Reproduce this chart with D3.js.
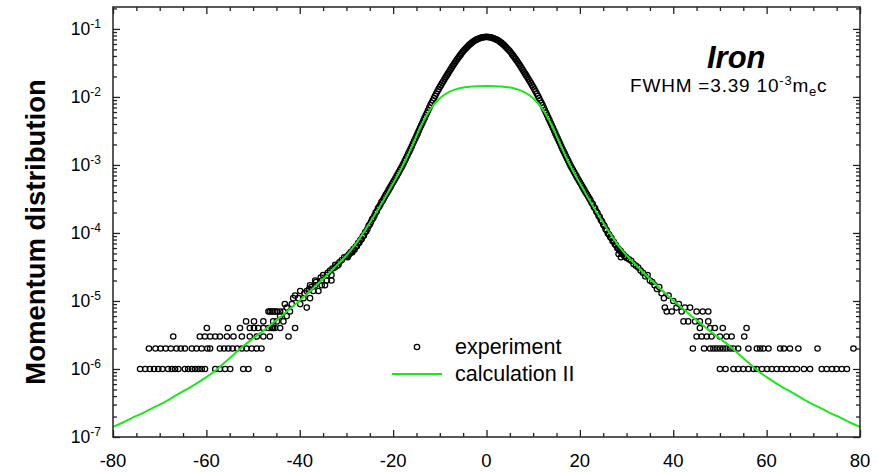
<!DOCTYPE html>
<html>
<head>
<meta charset="utf-8">
<script src="https://cdn.jsdelivr.net/npm/d3@7"></script>
<style>
  body { margin: 0; background: #fff; }
  svg { display: block; font-family: "Liberation Sans", Arial, sans-serif; }
</style>
</head>
<body>
<script>
// tick values
const xMajor = [-80, -60, -40, -20, 0, 20, 40, 60, 80];
const xMinor = [-75, -70, -65, -55, -50, -45, -35, -30, -25, -15, -10, -5, 5, 10, 15, 25, 30, 35, 45, 50, 55, 65, 70, 75];
const yMajor = [1e-7, 1e-6, 1e-5, 1e-4, 1e-3, 1e-2, 1e-1];
const yExp = ['-7', '-6', '-5', '-4', '-3', '-2', '-1'];
const yTop = 0.21;

// experiment, central peak, left half (x, value)
const peakLeft = [
  [-30, 4.5e-5], [-29.75, 4.4e-5], [-29.5, 4.8e-5], [-29.25, 5.0e-5], [-29, 5.3e-5], [-28.75, 5.2e-5],
  [-28.5, 5.8e-5], [-28.25, 5.7e-5], [-28, 6.3e-5], [-27.75, 6.4e-5], [-27.5, 7.1e-5], [-27.25, 7.2e-5],
  [-27, 7.9e-5], [-26.75, 8.1e-5], [-26.5, 8.9e-5], [-26.25, 9.2e-5], [-26, 1.02e-4], [-25.75, 1.06e-4],
  [-25.5, 1.14e-4], [-25.25, 1.27e-4], [-25, 1.33e-4], [-24.75, 1.44e-4], [-24.5, 1.59e-4], [-24.25, 1.66e-4],
  [-24, 1.80e-4], [-23.75, 1.98e-4], [-23.5, 2.08e-4], [-23.25, 2.3e-4], [-23, 2.42e-4], [-22.75, 2.6e-4],
  [-22.5, 2.84e-4], [-22.25, 2.98e-4], [-22, 3.2e-4], [-21.75, 3.46e-4], [-21.5, 3.70e-4], [-21.25, 3.94e-4],
  [-21, 4.22e-4], [-20.75, 4.52e-4], [-20.5, 4.84e-4], [-20.25, 5.19e-4], [-20, 5.56e-4], [-19.75, 5.96e-4],
  [-19.5, 6.38e-4], [-19.25, 6.84e-4], [-19, 7.33e-4], [-18.75, 7.87e-4], [-18.5, 8.47e-4], [-18.25, 9.10e-4],
  [-18, 9.77e-4], [-17.75, 1.06e-3], [-17.5, 1.15e-3], [-17.25, 1.24e-3], [-17, 1.35e-3], [-16.75, 1.47e-3],
  [-16.5, 1.59e-3], [-16.25, 1.73e-3], [-16, 1.88e-3], [-15.75, 2.06e-3], [-15.5, 2.24e-3], [-15.25, 2.44e-3],
  [-15, 2.66e-3], [-14.75, 2.91e-3], [-14.5, 3.18e-3], [-14.25, 3.48e-3], [-14, 3.80e-3], [-13.75, 4.14e-3],
  [-13.5, 4.52e-3], [-13.25, 4.92e-3], [-13, 5.37e-3], [-12.75, 5.85e-3], [-12.5, 6.37e-3], [-12.25, 6.95e-3],
  [-12, 7.59e-3], [-11.75, 8.20e-3], [-11.5, 8.87e-3], [-11.25, 9.59e-3], [-11, 1.04e-2], [-10.75, 1.12e-2],
  [-10.5, 1.21e-2], [-10.25, 1.30e-2], [-10, 1.40e-2], [-9.75, 1.49e-2], [-9.5, 1.60e-2], [-9.25, 1.70e-2],
  [-9, 1.82e-2], [-8.75, 1.94e-2], [-8.5, 2.07e-2], [-8.25, 2.20e-2], [-8, 2.34e-2], [-7.75, 2.50e-2],
  [-7.5, 2.66e-2], [-7.25, 2.84e-2], [-7, 3.02e-2], [-6.75, 3.20e-2], [-6.5, 3.39e-2], [-6.25, 3.59e-2],
  [-6, 3.80e-2], [-5.75, 4.01e-2], [-5.5, 4.22e-2], [-5.25, 4.45e-2], [-5, 4.68e-2], [-4.75, 4.89e-2],
  [-4.5, 5.11e-2], [-4.25, 5.33e-2], [-4, 5.56e-2], [-3.75, 5.77e-2], [-3.5, 5.98e-2], [-3.25, 6.18e-2],
  [-3, 6.38e-2], [-2.75, 6.56e-2], [-2.5, 6.73e-2], [-2.25, 6.89e-2], [-2, 7.03e-2], [-1.75, 7.14e-2],
  [-1.5, 7.26e-2], [-1.25, 7.38e-2], [-1, 7.46e-2], [-0.75, 7.53e-2], [-0.5, 7.59e-2], [-0.25, 7.61e-2]
];

// experiment, central peak, right half
const peakRight = [
  [0, 7.62e-2], [0.25, 7.61e-2], [0.5, 7.59e-2], [0.75, 7.53e-2], [1, 7.46e-2], [1.25, 7.38e-2],
  [1.5, 7.26e-2], [1.75, 7.14e-2], [2, 7.03e-2], [2.25, 6.89e-2], [2.5, 6.73e-2], [2.75, 6.56e-2],
  [3, 6.38e-2], [3.25, 6.18e-2], [3.5, 5.98e-2], [3.75, 5.77e-2], [4, 5.56e-2], [4.25, 5.33e-2],
  [4.5, 5.11e-2], [4.75, 4.89e-2], [5, 4.68e-2], [5.25, 4.45e-2], [5.5, 4.22e-2], [5.75, 4.01e-2],
  [6, 3.80e-2], [6.25, 3.59e-2], [6.5, 3.39e-2], [6.75, 3.20e-2], [7, 3.02e-2], [7.25, 2.84e-2],
  [7.5, 2.66e-2], [7.75, 2.50e-2], [8, 2.34e-2], [8.25, 2.20e-2], [8.5, 2.07e-2], [8.75, 1.94e-2],
  [9, 1.82e-2], [9.25, 1.70e-2], [9.5, 1.60e-2], [9.75, 1.49e-2], [10, 1.40e-2], [10.25, 1.30e-2],
  [10.5, 1.21e-2], [10.75, 1.12e-2], [11, 1.04e-2], [11.25, 9.59e-3], [11.5, 8.87e-3], [11.75, 8.20e-3],
  [12, 7.59e-3], [12.25, 6.95e-3], [12.5, 6.37e-3], [12.75, 5.85e-3], [13, 5.37e-3], [13.25, 4.92e-3],
  [13.5, 4.52e-3], [13.75, 4.14e-3], [14, 3.80e-3], [14.25, 3.48e-3], [14.5, 3.18e-3], [14.75, 2.91e-3],
  [15, 2.66e-3], [15.25, 2.44e-3], [15.5, 2.24e-3], [15.75, 2.06e-3], [16, 1.88e-3], [16.25, 1.73e-3],
  [16.5, 1.59e-3], [16.75, 1.47e-3], [17, 1.35e-3], [17.25, 1.24e-3], [17.5, 1.15e-3], [17.75, 1.06e-3],
  [18, 9.77e-4], [18.25, 9.10e-4], [18.5, 8.47e-4], [18.75, 7.87e-4], [19, 7.33e-4], [19.25, 6.84e-4],
  [19.5, 6.38e-4], [19.75, 5.96e-4], [20, 5.56e-4], [20.25, 5.19e-4], [20.5, 4.84e-4], [20.75, 4.52e-4],
  [21, 4.22e-4], [21.25, 3.94e-4], [21.5, 3.70e-4], [21.75, 3.46e-4], [22, 3.24e-4], [22.25, 3.05e-4],
  [22.5, 2.78e-4], [22.75, 2.66e-4], [23, 2.41e-4], [23.25, 2.31e-4], [23.5, 2.08e-4], [23.75, 1.98e-4],
  [24, 1.79e-4], [24.25, 1.71e-4], [24.5, 1.55e-4], [24.75, 1.47e-4], [25, 1.33e-4], [25.25, 1.27e-4],
  [25.5, 1.14e-4], [25.75, 1.09e-4], [26, 9.8e-5], [26.25, 9.5e-5], [26.5, 8.7e-5], [26.75, 8.4e-5],
  [27, 7.6e-5], [27.25, 7.4e-5], [27.5, 6.8e-5], [27.75, 6.6e-5], [28, 6.0e-5], [28.25, 5.9e-5],
  [28.3, 4.9e-5], [28.5, 5.5e-5], [28.75, 5.4e-5], [28.8, 4.4e-5], [29, 5.0e-5], [29.25, 4.9e-5],
  [29.5, 4.6e-5], [29.75, 4.5e-5], [30, 4.3e-5]
];

// experiment, left tail
const tailLeft = [
  [-30.5, 4.4e-5], [-31, 4.0e-5], [-31.5, 3.7e-5], [-31.7, 3.4e-5], [-32, 3.3e-5], [-32.4, 3.4e-5],
  [-32.5, 3.1e-5], [-33, 3.0e-5], [-33.2, 2.4e-5], [-33.2, 2.0e-5], [-33.5, 2.8e-5], [-34, 2.6e-5],
  [-34.2, 2.4e-5], [-34.2, 2.0e-5], [-34.6, 1.7e-5], [-35, 2.4e-5], [-35.3, 2.0e-5], [-35.3, 1.7e-5],
  [-35.5, 2.2e-5], [-36, 1.4e-5], [-36.5, 1.9e-5], [-36.7, 1.7e-5], [-36.7, 2.0e-5], [-37.1, 1.4e-5],
  [-37.5, 1.6e-5], [-37.8, 1.7e-5], [-37.8, 1.1e-5], [-38, 1.5e-5], [-38.5, 1.4e-5], [-38.5, 8e-6],
  [-39, 1.3e-5], [-39.2, 1.1e-5], [-39.9, 1.4e-5], [-39.9, 9e-6], [-40.3, 1.1e-5], [-41, 4e-6],
  [-41, 1.2e-5], [-41.4, 1.1e-5], [-41.7, 9e-6], [-42.1, 7e-6], [-42.4, 3e-6], [-42.8, 8e-6],
  [-42.8, 6e-6], [-43.2, 9e-6], [-43.5, 7e-6], [-43.5, 5e-6], [-44.2, 7e-6], [-44.2, 6e-6],
  [-44.2, 4e-6], [-44.9, 7e-6], [-44.9, 5e-6], [-45.3, 7e-6], [-45.3, 4e-6], [-45.7, 7e-6],
  [-45.7, 5e-6], [-45.7, 4e-6], [-46, 7e-6], [-46, 4e-6], [-46.4, 7e-6], [-46.4, 3e-6],
  [-46.7, 7e-6], [-46.7, 1e-6], [-46.7, 4e-6], [-47.8, 5e-6], [-47.8, 4e-6], [-47.8, 3e-6],
  [-48.2, 2e-6], [-48.9, 4e-6], [-49.2, 3e-6], [-49.2, 2e-6], [-49.8, 5e-6], [-49.8, 4e-6],
  [-50.3, 2e-6], [-50.7, 3e-6], [-50.7, 4e-6], [-51, 1e-6], [-51.4, 2e-6], [-51.5, 5e-6],
  [-52.1, 1e-6], [-52.4, 2e-6], [-52.4, 3e-6], [-52.8, 4e-6], [-53.4, 2e-6], [-54.2, 3e-6],
  [-54.4, 2e-6], [-54.9, 1e-6], [-55.3, 2e-6], [-55.4, 4e-6], [-55.6, 3e-6], [-56, 1e-6],
  [-56.2, 2e-6], [-57.1, 1e-6], [-57.1, 2e-6], [-57.1, 3e-6], [-58.1, 1e-6], [-58.1, 3e-6],
  [-59.2, 2e-6], [-59.2, 3e-6], [-59.8, 2e-6], [-59.9, 4e-6], [-60.3, 1e-6], [-60.3, 3e-6],
  [-61, 1e-6], [-61, 2e-6], [-61.4, 3e-6], [-61.7, 1e-6], [-62.1, 2e-6], [-62.4, 1e-6],
  [-63.1, 1e-6], [-63.1, 2e-6], [-63.9, 1e-6], [-64.6, 1e-6], [-64.6, 2e-6], [-65.5, 2e-6],
  [-66, 1e-6], [-66.4, 2e-6], [-66.7, 1e-6], [-67.1, 3e-6], [-67.4, 1e-6], [-67.6, 2e-6],
  [-68.2, 1e-6], [-68.7, 2e-6], [-69.4, 1e-6], [-69.8, 2e-6], [-70.3, 1e-6], [-70.9, 2e-6],
  [-71.2, 1e-6], [-72.1, 1e-6], [-72.3, 2e-6], [-73.1, 1e-6], [-74.2, 1e-6]
];

// experiment, right tail
const tailRight = [
  [30.5, 4.1e-5], [31, 3.9e-5], [31.5, 3.5e-5], [32, 3.3e-5], [32.5, 3.1e-5], [33, 2.8e-5],
  [33.5, 2.6e-5], [34, 2.3e-5], [34.5, 2.4e-5], [35, 2.0e-5], [35.5, 1.9e-5], [36, 1.7e-5],
  [36.5, 1.5e-5], [37, 1.6e-5], [37.5, 1.3e-5], [38, 1.1e-5], [38.2, 8e-6], [38.6, 7e-6],
  [39, 1.2e-5], [39.7, 7e-6], [40, 1.0e-5], [40.7, 8e-6], [41.2, 9e-6], [41.8, 7e-6],
  [42.2, 5e-6], [42.5, 8e-6], [43.2, 5e-6], [43.6, 8e-6], [44.2, 2e-6], [44.7, 5e-6],
  [45, 7e-6], [45, 3e-6], [45.7, 4e-6], [45.7, 5e-6], [46.1, 3e-6], [46.3, 7e-6],
  [46.6, 2e-6], [47.2, 3e-6], [47.5, 7e-6], [47.5, 5e-6], [47.9, 2e-6], [47.9, 4e-6],
  [48.2, 3e-6], [48.6, 2e-6], [48.9, 4e-6], [49.3, 2e-6], [50, 1e-6], [50, 2e-6],
  [50, 3e-6], [50.6, 4e-6], [50.7, 2e-6], [51.2, 1e-6], [51.4, 2e-6], [51.4, 3e-6],
  [52.2, 2e-6], [52.5, 3e-6], [52.9, 1e-6], [52.9, 2e-6], [53.9, 1e-6], [53.9, 2e-6],
  [55, 1e-6], [55.2, 3e-6], [55.7, 4e-6], [56.1, 1e-6], [56.1, 2e-6], [57.2, 1e-6],
  [57.9, 1e-6], [57.9, 2e-6], [58.6, 2e-6], [59, 1e-6], [59.3, 2e-6], [60.1, 1e-6],
  [60.4, 2e-6], [61.1, 1e-6], [62.2, 1e-6], [62.9, 2e-6], [63.2, 1e-6], [63.7, 2e-6],
  [64.3, 1e-6], [65, 2e-6], [65.4, 1e-6], [66.5, 1e-6], [66.8, 2e-6], [68, 1e-6],
  [69.3, 1e-6], [70.9, 2e-6], [71.8, 1e-6], [72.9, 1e-6], [74, 1e-6], [75, 1e-6],
  [76.1, 1e-6], [77.2, 1e-6], [78.6, 2e-6]
];

// calculation II
const calcX = [-80, -78, -76, -74, -72, -70, -68, -66, -64, -62, -60, -58, -56, -54, -52, -50, -48, -46, -44, -42, -40,
  -38, -36, -34, -32, -30, -28, -26, -24, -22, -20, -18, -16, -14, -12, -10, -8, -6, -4, -2, 0,
  2, 4, 6, 8, 10, 12, 14, 16, 18, 20, 22, 24, 26, 28, 30, 32, 34, 36, 38, 40,
  42, 44, 46, 48, 50, 52, 54, 56, 58, 60, 62, 64, 66, 68, 70, 72, 74, 76, 78, 80];
const calcY = [1.41e-7, 1.62e-7, 1.9e-7, 2.19e-7, 2.57e-7, 3.0e-7, 3.55e-7, 4.3e-7, 5.1e-7, 6.2e-7, 7.6e-7,
  9.5e-7, 1.26e-6, 1.66e-6, 2.2e-6, 2.8e-6, 3.55e-6, 4.6e-6, 5.9e-6, 7.8e-6, 1.02e-5,
  1.35e-5, 1.82e-5, 2.45e-5, 3.4e-5, 4.68e-5, 6.92e-5, 1.10e-4, 1.82e-4, 3.09e-4, 5.37e-4,
  9.55e-4, 1.86e-3, 3.80e-3, 6.61e-3, 9.55e-3, 1.189e-2, 1.334e-2, 1.403e-2, 1.439e-2, 1.452e-2,
  1.439e-2, 1.403e-2, 1.334e-2, 1.189e-2, 9.55e-3, 6.61e-3, 3.80e-3, 1.86e-3, 9.55e-4, 5.37e-4,
  3.09e-4, 1.82e-4, 1.10e-4, 6.92e-5, 4.68e-5, 3.4e-5, 2.45e-5, 1.82e-5, 1.35e-5, 1.02e-5,
  7.8e-6, 5.9e-6, 4.6e-6, 3.55e-6, 2.8e-6, 2.2e-6, 1.66e-6, 1.26e-6, 9.5e-7, 7.6e-7,
  6.2e-7, 5.1e-7, 4.3e-7, 3.55e-7, 3.0e-7, 2.57e-7, 2.19e-7, 1.9e-7, 1.62e-7, 1.41e-7];

const width = 878;
const height = 472;
const plotL = 113, plotR = 860, plotT = 7, plotB = 437;
const green = '#1ee61e';

const svg = d3.select('body').append('svg')
  .attr('width', width)
  .attr('height', height);

const x = d3.scaleLinear().domain([-80, 80]).range([plotL, plotR]);
const y = d3.scaleLog().domain([1e-7, yTop]).range([plotB, plotT]);

// minor log ticks 2..9 in each decade
const yMinor = [];
yMajor.forEach(d => {
  for (let k = 2; k <= 9; k++) {
    const v = d * k;
    if (v < yTop) yMinor.push(v);
  }
});

// ticks, all pointing inward
function ticks(axis, tr) {
  const g = svg.append('g').attr('transform', tr).call(axis);
  g.select('.domain').remove();
  g.selectAll('line').attr('stroke', '#222').attr('stroke-width', 1.3);
  return g;
}
ticks(d3.axisBottom(x).tickValues(xMajor).tickSize(-7).tickFormat(''), `translate(0,${plotB})`);
ticks(d3.axisBottom(x).tickValues(xMinor).tickSize(-4).tickFormat(''), `translate(0,${plotB})`);
ticks(d3.axisTop(x).tickValues(xMajor).tickSize(-7).tickFormat(''), `translate(0,${plotT})`);
ticks(d3.axisTop(x).tickValues(xMinor).tickSize(-4).tickFormat(''), `translate(0,${plotT})`);
ticks(d3.axisLeft(y).tickValues(yMajor).tickSize(-7).tickFormat(''), `translate(${plotL},0)`);
ticks(d3.axisLeft(y).tickValues(yMinor).tickSize(-4).tickFormat(''), `translate(${plotL},0)`);
ticks(d3.axisRight(y).tickValues(yMajor).tickSize(-7).tickFormat(''), `translate(${plotR},0)`);
ticks(d3.axisRight(y).tickValues(yMinor).tickSize(-4).tickFormat(''), `translate(${plotR},0)`);

// x labels
svg.append('g').selectAll('text')
  .data(xMajor)
  .enter().append('text')
  .attr('x', d => x(d))
  .attr('y', 467)
  .attr('text-anchor', 'middle')
  .attr('font-size', 18.5)
  .text(d => String(d));

// y labels: 10 with exponent
const yl = svg.append('g').selectAll('text')
  .data(yMajor)
  .enter().append('text')
  .attr('x', 101)
  .attr('y', d => y(d) + 6)
  .attr('text-anchor', 'end')
  .attr('font-size', 17.5);
yl.append('tspan').text('10');
yl.append('tspan').attr('dy', -7).attr('font-size', 12).text((d, i) => yExp[i]);

// data
const exp = peakLeft.concat(peakRight, tailLeft, tailRight);
svg.append('g').selectAll('circle')
  .data(exp)
  .enter().append('circle')
  .attr('cx', d => x(d[0]))
  .attr('cy', d => y(d[1]))
  .attr('r', 2.7)
  .attr('fill', 'none')
  .attr('stroke', '#000')
  .attr('stroke-width', 1.25);

const line = d3.line()
  .x((d, i) => x(calcX[i]))
  .y(d => y(d))
  .curve(d3.curveMonotoneX);

svg.append('path')
  .datum(calcY)
  .attr('d', line)
  .attr('fill', 'none')
  .attr('stroke', green)
  .attr('stroke-width', 2);

// frame
svg.append('rect')
  .attr('x', plotL).attr('y', plotT)
  .attr('width', plotR - plotL).attr('height', plotB - plotT)
  .attr('fill', 'none')
  .attr('stroke', '#222')
  .attr('stroke-width', 1.5);

// axis title
svg.append('text')
  .attr('transform', 'translate(45,232) rotate(-90)')
  .attr('text-anchor', 'middle')
  .attr('font-size', 27.5)
  .attr('font-weight', 'bold')
  .text('Momentum distribution');

// annotation
svg.append('text')
  .attr('x', 707).attr('y', 68)
  .attr('font-size', 31)
  .attr('font-weight', 'bold')
  .attr('font-style', 'italic')
  .text('Iron');

const fw = svg.append('text')
  .attr('x', 630).attr('y', 92)
  .attr('font-size', 19)
  .attr('letter-spacing', 0.8);
fw.append('tspan').text('FWHM =3.39 10');
fw.append('tspan').attr('dy', -7).attr('font-size', 13).text('-3');
fw.append('tspan').attr('dy', 7).text('m');
fw.append('tspan').attr('dy', 4).attr('font-size', 13).text('e');
fw.append('tspan').attr('dy', -4).text('c');

// legend
svg.append('circle')
  .attr('cx', 417).attr('cy', 347).attr('r', 2.7)
  .attr('fill', 'none').attr('stroke', '#000').attr('stroke-width', 1.25);
svg.append('text')
  .attr('x', 455).attr('y', 354)
  .attr('font-size', 21.5)
  .text('experiment');
svg.append('line')
  .attr('x1', 392).attr('x2', 442)
  .attr('y1', 374).attr('y2', 374)
  .attr('stroke', green).attr('stroke-width', 2);
svg.append('text')
  .attr('x', 455).attr('y', 381)
  .attr('font-size', 21.5)
  .text('calculation II');
</script>
</body>
</html>
